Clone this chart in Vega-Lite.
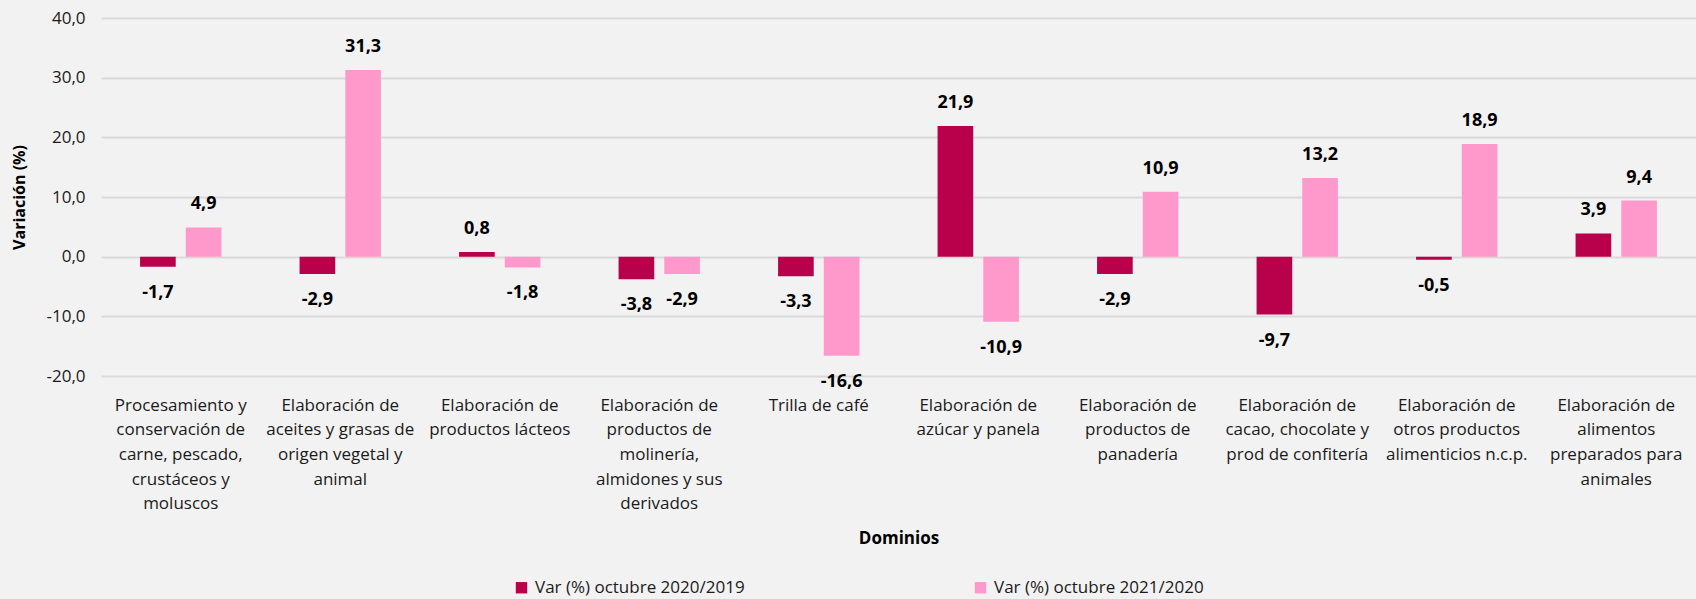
{
  "$schema": "https://vega.github.io/schema/vega-lite/v6.json",
  "autosize": {"type": "none"},
  "width": 1595,
  "height": 358,
  "padding": {"left": 101, "top": 18, "right": 0, "bottom": 223},
  "background": "#f2f2f2",
  "config": {
    "locale": {"number": {"decimal": ",", "thousands": ".", "grouping": [3], "currency": ["$", ""], "minus": "-"}},
    "view": {"stroke": null},
    "font": "Open Sans"
  },
  "data": {
    "values": [
      {"dominio": "Procesamiento y|conservación de|carne, pescado,|crustáceos y|moluscos", "serie": "Var (%) octubre 2020/2019", "v": -1.7},
      {"dominio": "Procesamiento y|conservación de|carne, pescado,|crustáceos y|moluscos", "serie": "Var (%) octubre 2021/2020", "v": 4.9},
      {"dominio": "Elaboración de|aceites y grasas de|origen vegetal y|animal", "serie": "Var (%) octubre 2020/2019", "v": -2.9},
      {"dominio": "Elaboración de|aceites y grasas de|origen vegetal y|animal", "serie": "Var (%) octubre 2021/2020", "v": 31.3},
      {"dominio": "Elaboración de|productos lácteos", "serie": "Var (%) octubre 2020/2019", "v": 0.8},
      {"dominio": "Elaboración de|productos lácteos", "serie": "Var (%) octubre 2021/2020", "v": -1.8},
      {"dominio": "Elaboración de|productos de|molinería,|almidones y sus|derivados", "serie": "Var (%) octubre 2020/2019", "v": -3.8},
      {"dominio": "Elaboración de|productos de|molinería,|almidones y sus|derivados", "serie": "Var (%) octubre 2021/2020", "v": -2.9},
      {"dominio": "Trilla de café", "serie": "Var (%) octubre 2020/2019", "v": -3.3},
      {"dominio": "Trilla de café", "serie": "Var (%) octubre 2021/2020", "v": -16.6},
      {"dominio": "Elaboración de|azúcar y panela", "serie": "Var (%) octubre 2020/2019", "v": 21.9},
      {"dominio": "Elaboración de|azúcar y panela", "serie": "Var (%) octubre 2021/2020", "v": -10.9},
      {"dominio": "Elaboración de|productos de|panadería", "serie": "Var (%) octubre 2020/2019", "v": -2.9},
      {"dominio": "Elaboración de|productos de|panadería", "serie": "Var (%) octubre 2021/2020", "v": 10.9},
      {"dominio": "Elaboración de|cacao, chocolate y|prod de confitería", "serie": "Var (%) octubre 2020/2019", "v": -9.7},
      {"dominio": "Elaboración de|cacao, chocolate y|prod de confitería", "serie": "Var (%) octubre 2021/2020", "v": 13.2},
      {"dominio": "Elaboración de|otros productos|alimenticios n.c.p.", "serie": "Var (%) octubre 2020/2019", "v": -0.5},
      {"dominio": "Elaboración de|otros productos|alimenticios n.c.p.", "serie": "Var (%) octubre 2021/2020", "v": 18.9},
      {"dominio": "Elaboración de|alimentos|preparados para|animales", "serie": "Var (%) octubre 2020/2019", "v": 3.9},
      {"dominio": "Elaboración de|alimentos|preparados para|animales", "serie": "Var (%) octubre 2021/2020", "v": 9.4}
    ]
  },
  "encoding": {
    "x": {
      "field": "dominio", "type": "nominal", "sort": null,
      "scale": {"paddingInner": 0.49, "paddingOuter": 0.245},
      "axis": {
        "title": "Dominios", "titleFontSize": 17, "titleFontWeight": "bold", "titleColor": "#000000", "titlePadding": 19,
        "labelExpr": "split(datum.label, '|')", "labelAngle": 0, "labelAlign": "center", "labelBaseline": "top",
        "labelFontSize": 17, "labelColor": "#1a1a1a", "labelLineHeight": 24.7, "labelPadding": 21, "labelLimit": 0,
        "ticks": false, "domain": false, "grid": false
      }
    },
    "xOffset": {"field": "serie", "type": "nominal", "scale": {"paddingInner": 0.22, "paddingOuter": 0}},
    "y": {
      "field": "v", "type": "quantitative",
      "scale": {"domain": [-20, 40], "nice": false, "zero": false},
      "axis": {
        "title": "Variación (%)", "titleFontSize": 16, "titleFontWeight": "bold", "titleColor": "#000000", "titlePadding": 18,
        "values": [-20, -10, 0, 10, 20, 30, 40], "format": ".1f",
        "labelFontSize": 17, "labelColor": "#1a1a1a", "labelPadding": 16,
        "ticks": false, "domain": false, "grid": true, "gridColor": "#d9d9d9", "gridWidth": 2
      }
    }
  },
  "layer": [
    {
      "mark": {"type": "bar"},
      "encoding": {
        "color": {
          "field": "serie", "type": "nominal",
          "scale": {"domain": ["Var (%) octubre 2020/2019", "Var (%) octubre 2021/2020"], "range": ["#b8004b", "#ff99cc"]},
          "legend": {
            "title": null, "orient": "none", "direction": "horizontal", "legendX": 412, "legendY": 561,
            "symbolType": "square", "symbolSize": 130, "symbolStrokeWidth": 0, "labelFontSize": 17, "labelColor": "#1a1a1a",
            "columnPadding": 227, "labelOffset": 5, "labelLimit": 0
          }
        }
      }
    },
    {
      "transform": [{"filter": "datum.v >= 0"}],
      "mark": {"type": "text", "fontWeight": "bold", "fontSize": 18, "baseline": "middle", "dy": -23, "color": "#000000"},
      "encoding": {"text": {"field": "v", "type": "quantitative", "format": ".1f"}}
    },
    {
      "transform": [{"filter": "datum.v < 0"}],
      "mark": {"type": "text", "fontWeight": "bold", "fontSize": 18, "baseline": "middle", "dy": 26, "color": "#000000"},
      "encoding": {"text": {"field": "v", "type": "quantitative", "format": ".1f"}}
    }
  ]
}
